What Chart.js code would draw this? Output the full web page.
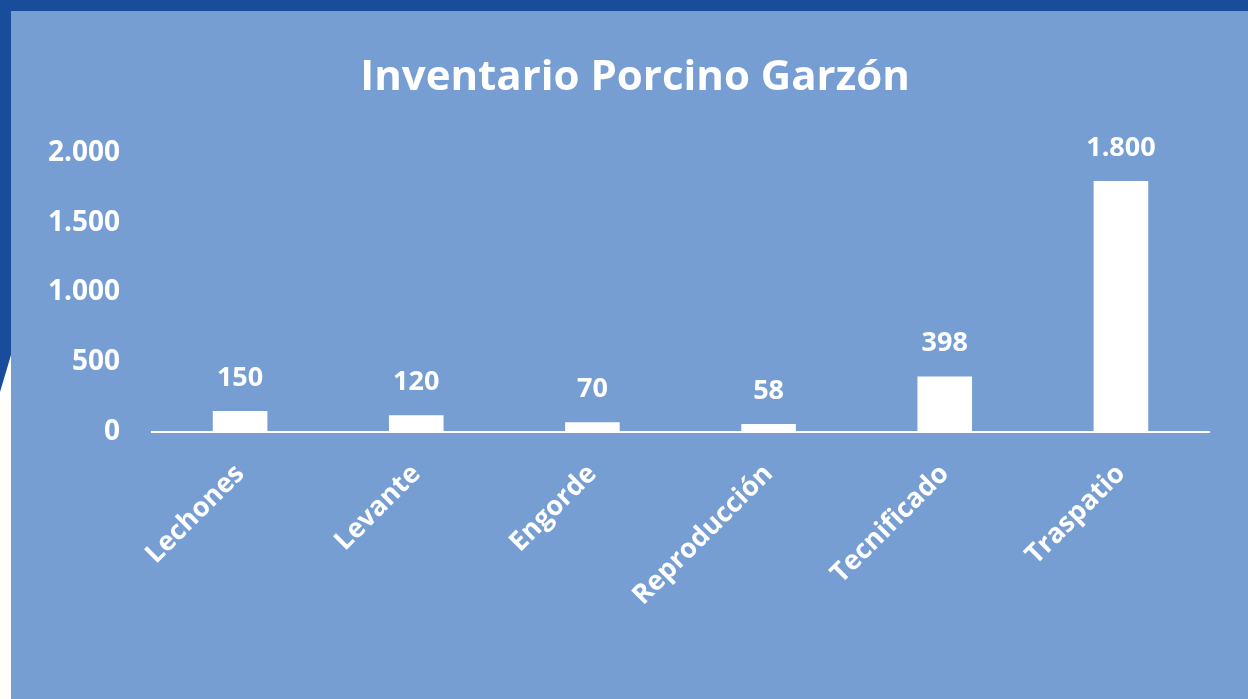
<!DOCTYPE html>
<html>
<head>
<meta charset="utf-8">
<script src="https://cdn.jsdelivr.net/npm/chart.js@4"></script>
<style>
  html, body { margin: 0; padding: 0; background: #fff; overflow: hidden; }
  #frame { position: absolute; left: 0; top: 0; width: 1248px; height: 699px; }
  #topBar { position: absolute; left: 0; top: 0; width: 1248px; height: 11px; background: #1a4c9c; }
  #leftBar { position: absolute; left: 0; top: 0; width: 11px; height: 400px; background: #1a4c9c;
    clip-path: polygon(0 0, 11px 0, 11px 355px, 0 392px); }
  #panel { position: absolute; left: 11px; top: 11px; right: 0; bottom: 0; background: #769ed2; }
  #wrap { position: absolute; left: 0; top: 0; width: 1248px; height: 699px; }
</style>
</head>
<body>
<div id="frame">
  <div id="topBar"></div>
  <div id="leftBar"></div>
  <div id="panel"></div>
  <div id="wrap"><canvas id="chart" width="1248" height="699"></canvas></div>
</div>
<script>
const TITLE = 'Inventario Porcino Garzón'
const CATEGORIES = ['Lechones', 'Levante', 'Engorde', 'Reproducción', 'Tecnificado', 'Traspatio']
const VALUES = [150, 120, 70, 58, 398, 1800]
const Y_TICKS = [0, 500, 1000, 1500, 2000]

const FONT = '"Open Sans", sans-serif'
const WHITE = '#ffffff'

// 1800 -> "1.800"
const fmt = (v) => String(v).replace(/\B(?=(\d{3})+(?!\d))/g, '.')

// title sits a bit right of the canvas centre, so it is drawn here
const titleAndLabels = {
  id: 'titleAndLabels',
  afterDatasetsDraw(chart) {
    const ctx = chart.ctx
    const meta = chart.getDatasetMeta(0)
    ctx.save()
    ctx.fillStyle = WHITE
    ctx.textAlign = 'center'

    ctx.font = `bold 42px ${FONT}`
    ctx.textBaseline = 'middle'
    ctx.fillText(TITLE, 635, 78)

    ctx.font = `bold 27px ${FONT}`
    ctx.textBaseline = 'alphabetic'
    meta.data.forEach((bar, i) => {
      ctx.fillText(fmt(VALUES[i]), bar.x, bar.y - 25)
    })
    ctx.restore()
  },
}

Chart.defaults.font.family = FONT
Chart.defaults.color = WHITE

new Chart(document.getElementById('chart'), {
  type: 'bar',
  data: {
    labels: CATEGORIES,
    datasets: [{
      data: VALUES,
      backgroundColor: WHITE,
      borderWidth: 0,
      barPercentage: 0.31,
      categoryPercentage: 1,
    }],
  },
  options: {
    responsive: false,
    animation: false,
    layout: { padding: { left: 0, right: 39, top: 153, bottom: 0 } },
    plugins: {
      legend: { display: false },
      tooltip: { enabled: false },
      title: { display: false },
    },
    scales: {
      x: {
        grid: { display: false, drawTicks: false },
        border: { display: true, color: WHITE, width: 2 },
        ticks: {
          color: WHITE,
          font: { size: 27, weight: 'bold' },
          minRotation: 45,
          maxRotation: 45,
          padding: 26,
        },
        afterFit: (scale) => { scale.height = 267 },
      },
      y: {
        min: 0,
        max: 2000,
        afterBuildTicks: (scale) => { scale.ticks = Y_TICKS.map(v => ({ value: v })) },
        grid: { display: false, drawTicks: false },
        border: { display: false },
        ticks: {
          color: WHITE,
          font: { size: 28, weight: 'bold' },
          padding: 32,
          callback: (v) => fmt(v),
        },
        afterFit: (scale) => { scale.width = 152 },
      },
    },
  },
  plugins: [titleAndLabels],
})
</script>
</body>
</html>
